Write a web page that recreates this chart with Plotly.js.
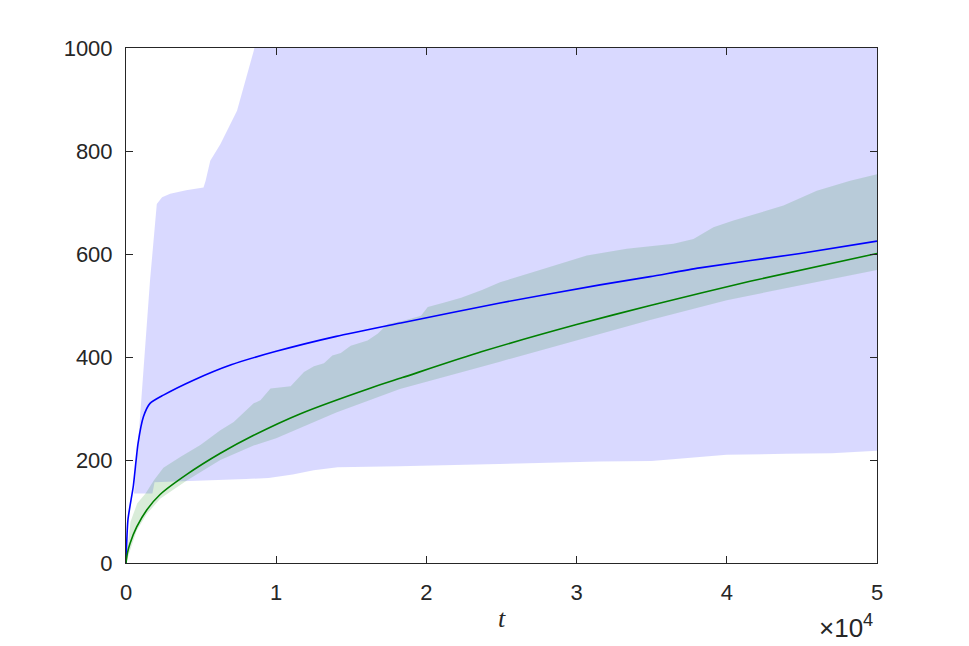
<!DOCTYPE html>
<html>
<head>
<meta charset="utf-8">
<script src="https://cdn.plot.ly/plotly-3.0.1.min.js"></script>
<style>
  html, body { margin: 0; padding: 0; background: #fff; }
  #plot { width: 969px; height: 646px; }
</style>
</head>
<body>
<div id="plot"></div>
<script>
// big (blue) band, upper and lower edges
let lavUpT = [530, 900, 1600, 2050, 2400, 2940, 4000, 5160, 5300, 5610, 6280, 7390, 8500, 9000, 20000, 50000]
let lavUpper = [135, 270, 549, 697, 710, 717, 724, 729, 742, 781, 813, 878, 994, 1060, 1300, 1500]
let lavLoT = [530, 1760, 1900, 4000, 8000, 9500, 11100, 12500, 14100, 18240, 25000, 31560, 35000, 37000, 40000, 44000, 47000, 50000]
let lavLower = [135, 135, 157, 160, 163, 165, 172, 180, 186, 188, 192, 197, 198, 203, 210, 212, 213, 218]

// green band, upper and lower edges
let grUpT = [0, 300, 750, 1300, 1870, 2490, 3610, 4950, 6280, 7170, 8500, 8950, 9620, 10960, 11850, 12510, 13180, 13740, 14300, 14960, 16080, 16750, 17420, 18530, 19640, 20090, 21200, 22310, 23700, 24900, 27120, 28900, 30680, 33340, 36450, 37780, 39110, 40440, 42660, 43770, 45990, 48210, 50000]
let grUpper = [0, 80, 116, 135, 161, 185, 206, 229, 258, 274, 310, 316, 339, 343, 371, 382, 388, 403, 408, 422, 432, 445, 464, 471, 480, 497, 506, 515, 530, 545, 565, 581, 597, 610, 620, 629, 652, 665, 684, 694, 723, 742, 755]
let grLoT = [0, 700, 1380, 2270, 4050, 6280, 8500, 10000, 14000, 18240, 24900, 30000, 34900, 40000, 45000, 50000]
let grLower = [0, 62, 95, 125, 160, 200, 228, 242, 292, 338, 391, 432, 472, 510, 540, 569]

// mean curves
let blueT = [0, 130, 490, 800, 1160, 1600, 2490, 4490, 7000, 10000, 14000, 18300, 24900, 31560, 34900, 38200, 44880, 50000]
let blueY = [0, 84, 150, 232, 284, 310, 326, 355, 385, 411, 440, 466, 505, 540, 556, 573, 601, 625]
let greenT = [0, 100, 267, 713, 1380, 2270, 4050, 6280, 8500, 11620, 16300, 18400, 23650, 30000, 34900, 41550, 50000]
let greenY = [0, 20, 38, 70, 103, 133, 172, 213, 248, 290, 340, 360, 410, 463, 500, 547, 601]

// x ticks (scaled by 10^4)
let xTickVals = [0, 10000, 20000, 30000, 40000, 50000]
let xTickText = ["0", "1", "2", "3", "4", "5"]
let yTickVals = [0, 200, 400, 600, 800, 1000]

// closed polygon from an upper and a lower edge
function band(upT, up, loT, lo) {
    return {
        x: upT.concat(loT.slice().reverse()),
        y: up.concat(lo.slice().reverse())
    }
}

let lav = band(lavUpT, lavUpper, lavLoT, lavLower)
let gr = band(grUpT, grUpper, grLoT, grLower)

let lavTrace = {
    x: lav.x, y: lav.y,
    type: "scatter", mode: "lines",
    fill: "toself",
    fillcolor: "rgba(0,0,255,0.15)",
    line: {width: 0},
    hoverinfo: "skip"
}

let greenBand = {
    x: gr.x, y: gr.y,
    type: "scatter", mode: "lines",
    fill: "toself",
    fillcolor: "rgba(0,128,0,0.15)",
    line: {width: 0},
    hoverinfo: "skip"
}

let blueTrace = {
    x: blueT, y: blueY,
    type: "scatter", mode: "lines",
    line: {color: "#0000ff", width: 1.6, shape: "spline", smoothing: 0.6}
}

let greenTrace = {
    x: greenT, y: greenY,
    type: "scatter", mode: "lines",
    line: {color: "#008000", width: 1.6, shape: "spline", smoothing: 0.6}
}

let data = [lavTrace, greenBand, blueTrace, greenTrace]

let tickFont = {family: "Liberation Sans, Arial, sans-serif", size: 22, color: "#262626"}

let layout = {
    width: 969,
    height: 646,
    showlegend: false,
    paper_bgcolor: "#ffffff",
    plot_bgcolor: "#ffffff",
    margin: {l: 126, r: 92, t: 48, b: 83, pad: 0},
    xaxis: {
        range: [0, 50000],
        tickvals: xTickVals,
        ticktext: xTickText,
        ticks: "inside",
        ticklen: 7,
        tickwidth: 1,
        tickcolor: "#262626",
        showline: true,
        linecolor: "#262626",
        linewidth: 1,
        mirror: "ticks",
        showgrid: false,
        zeroline: false,
        tickfont: tickFont,
        ticklabelstandoff: 10,
        title: {
            text: "<i>t</i>",
            font: {family: "Liberation Serif, DejaVu Serif, serif", size: 26, color: "#262626"},
            standoff: 4
        }
    },
    yaxis: {
        range: [0, 1000],
        tickvals: yTickVals,
        ticks: "inside",
        ticklen: 7,
        tickwidth: 1,
        tickcolor: "#262626",
        showline: true,
        linecolor: "#262626",
        linewidth: 1,
        mirror: "ticks",
        showgrid: false,
        zeroline: false,
        tickfont: tickFont,
        ticklabelstandoff: 8
    },
    annotations: [{
        text: "\u00d710<sup>4</sup>",
        xref: "paper", yref: "paper",
        x: 0.997, y: -0.16,
        xanchor: "right", yanchor: "bottom",
        showarrow: false,
        font: {family: "Liberation Sans, Arial, sans-serif", size: 26, color: "#262626"}
    }]
}

Plotly.newPlot("plot", data, layout, {displayModeBar: false, staticPlot: true})
</script>
</body>
</html>
